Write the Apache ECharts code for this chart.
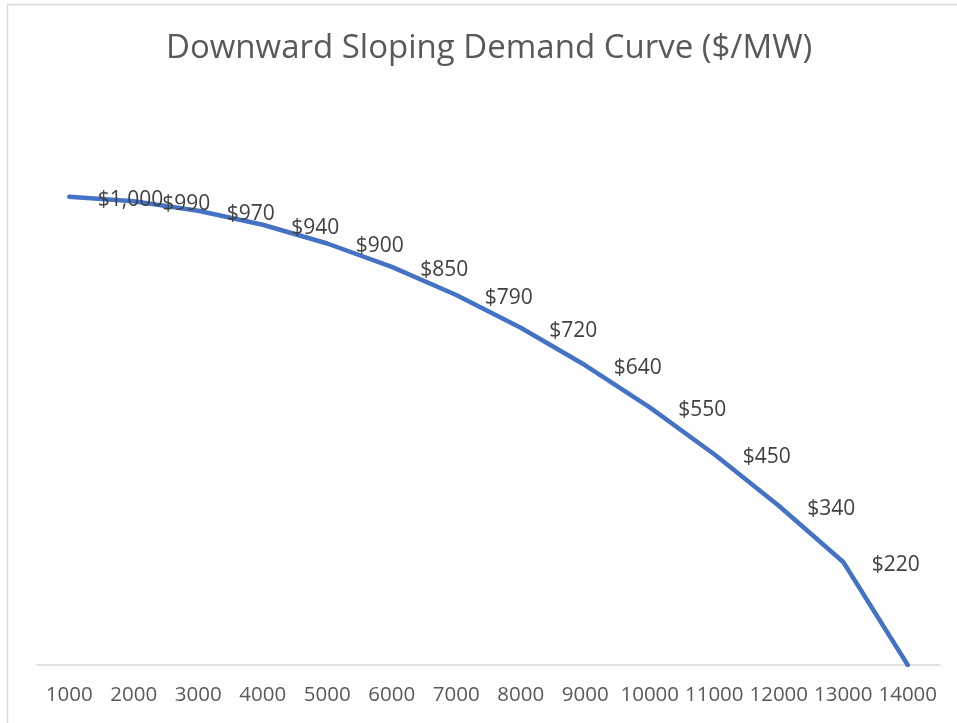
<!DOCTYPE html>
<html>
<head>
<meta charset="utf-8">
<script src="https://cdn.jsdelivr.net/npm/echarts@6/dist/echarts.min.js"></script>
<style>
  html, body { margin: 0; padding: 0; background: #fff; }
  #chart { width: 957px; height: 723px; }
</style>
</head>
<body>
<div id="chart"></div>
<script>
// megawatts on the x axis
var quantities = ["1000","2000","3000","4000","5000","6000","7000","8000","9000","10000","11000","12000","13000","14000"]
// price in $/MW
var prices = [1000, 990, 970, 940, 900, 850, 790, 720, 640, 550, 450, 340, 220, 0]

var chart = echarts.init(document.getElementById("chart"))

var option = {
  backgroundColor: "#fff",
  animation: false,
  title: {
    text: "Downward Sloping Demand Curve ($/MW)",
    left: 161,
    top: 27,
    textStyle: {
      fontFamily: "Open Sans",
      fontSize: 33,
      fontWeight: "normal",
      color: "#595959"
    }
  },
  graphic: [
    {
      type: "rect",
      shape: { x: 7.5, y: 4.5, width: 1000, height: 800 },
      style: { fill: "none", stroke: "#d9d9d9", lineWidth: 1.5 },
      silent: true
    }
  ],
  grid: {
    left: 37,
    right: 17,
    top: 103,
    bottom: 58
  },
  xAxis: {
    type: "category",
    data: quantities,
    boundaryGap: true,
    axisLine: { lineStyle: { color: "#d9d9d9", width: 1.5 } },
    axisTick: { show: false },
    axisLabel: {
      interval: 0,
      margin: 20,
      color: "#595959",
      fontFamily: "Open Sans",
      fontSize: 20.5
    }
  },
  yAxis: {
    type: "value",
    min: 0,
    max: 1200,
    show: false,
    splitLine: { show: false }
  },
  series: [
    {
      type: "line",
      data: prices,
      symbol: "circle",
      symbolSize: 1,
      showSymbol: true,
      itemStyle: { color: "rgba(0,0,0,0)", borderWidth: 0 },
      smooth: false,
      lineStyle: { color: "#4472c4", width: 4.5, cap: "round" },
      label: {
        show: true,
        position: "right",
        distance: 28,
        offset: [0, 3],
        color: "#404040",
        fontFamily: "Open Sans",
        fontSize: 21,
        formatter: function (p) {
          if (p.dataIndex === prices.length - 1) return ""
          return "$" + p.value.toLocaleString("en-US")
        }
      }
    }
  ]
}

chart.setOption(option)
</script>
</body>
</html>
